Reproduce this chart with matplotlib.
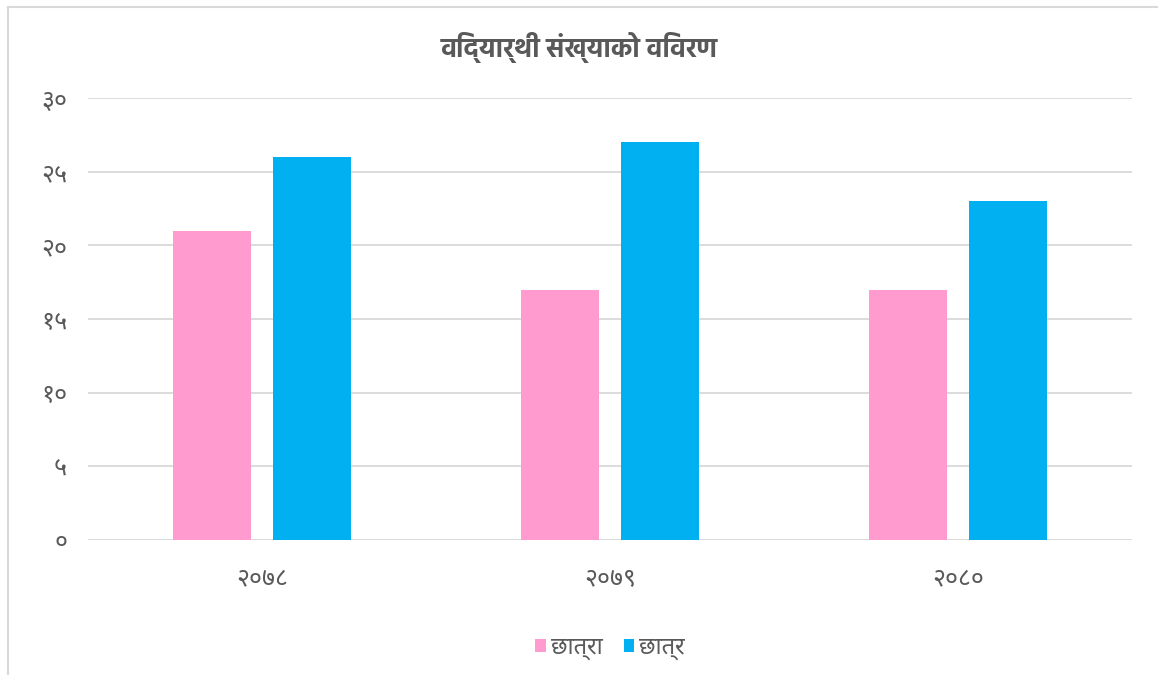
import numpy as np
import matplotlib
matplotlib.use('Agg')
import matplotlib.pyplot as plt
from matplotlib import font_manager

years = ['२०७८', '२०७९', '२०८०']
girls = [21, 17, 17]   # छात्रा
boys = [26, 27, 23]    # छात्र
yticks = [0, 5, 10, 15, 20, 25, 30]
ytick_labels = ['०', '५', '१०', '१५', '२०', '२५', '३०']
title = 'विद्यार्थी संख्याको विवरण'

# pick a Devanagari family that is installed, and a bold file for the title
prefs = ['Noto Sans Devanagari', 'Hind', 'Mukta', 'Anek Devanagari', 'FreeSans']
ttf = font_manager.fontManager.ttflist
names = set(f.name for f in ttf)
deva = [n for n in prefs if n in names]
plt.rcParams['font.family'] = deva[:1] + ['DejaVu Sans']
bold = None
for n in prefs:
    hits = [f for f in ttf if f.name == n and f.weight in (700, 'bold')
            and 'wght' not in f.fname]
    if hits:
        bold = font_manager.FontProperties(fname=hits[0].fname, size=19)
        break
if bold is None:
    bold = font_manager.FontProperties(family=deva[:1], weight='bold', size=19)

grey = '#595959'
fig = plt.figure(figsize=(11.58, 6.75), dpi=100)
ax = fig.add_axes([0.076, 0.2, 0.9015, 0.6548])

x = np.arange(len(years))
w = 0.224
ax.bar(x - 0.143, girls, w, color='#FF9BCE', label='छात्रा', zorder=3)
ax.bar(x + 0.143, boys, w, color='#00B0F0', label='छात्र', zorder=3)

ax.set_xlim(-0.5, 2.5)
ax.set_ylim(0, 30)
ax.set_yticks(yticks)
ax.set_yticklabels(ytick_labels)
ax.set_xticks(x)
ax.set_xticklabels(years)
ax.grid(axis='y', color='#D9D9D9', linewidth=1.3, zorder=0)
for s in ax.spines.values():
    s.set_visible(False)
ax.tick_params(length=0, labelsize=18, colors=grey)
ax.tick_params(axis='y', pad=15)
ax.tick_params(axis='x', pad=19)

fig.text(0.5, 0.93, title, ha='center', va='center', fontproperties=bold,
         color=grey)
ax.legend(loc='center', bbox_to_anchor=(0.5, -0.245), ncol=2, frameon=False,
          fontsize=17, labelcolor=grey, handlelength=0.45, handleheight=0.45,
          handletextpad=0.2, columnspacing=0.9)

# chart border (left and top visible)
fig.add_artist(plt.Line2D([0.0065, 0.0065], [0, 0.99], color='#D9D9D9',
                          linewidth=1.5, transform=fig.transFigure))
fig.add_artist(plt.Line2D([0.0065, 1], [0.99, 0.99], color='#D9D9D9',
                          linewidth=1.5, transform=fig.transFigure))

fig.savefig('out.png', dpi=100)
